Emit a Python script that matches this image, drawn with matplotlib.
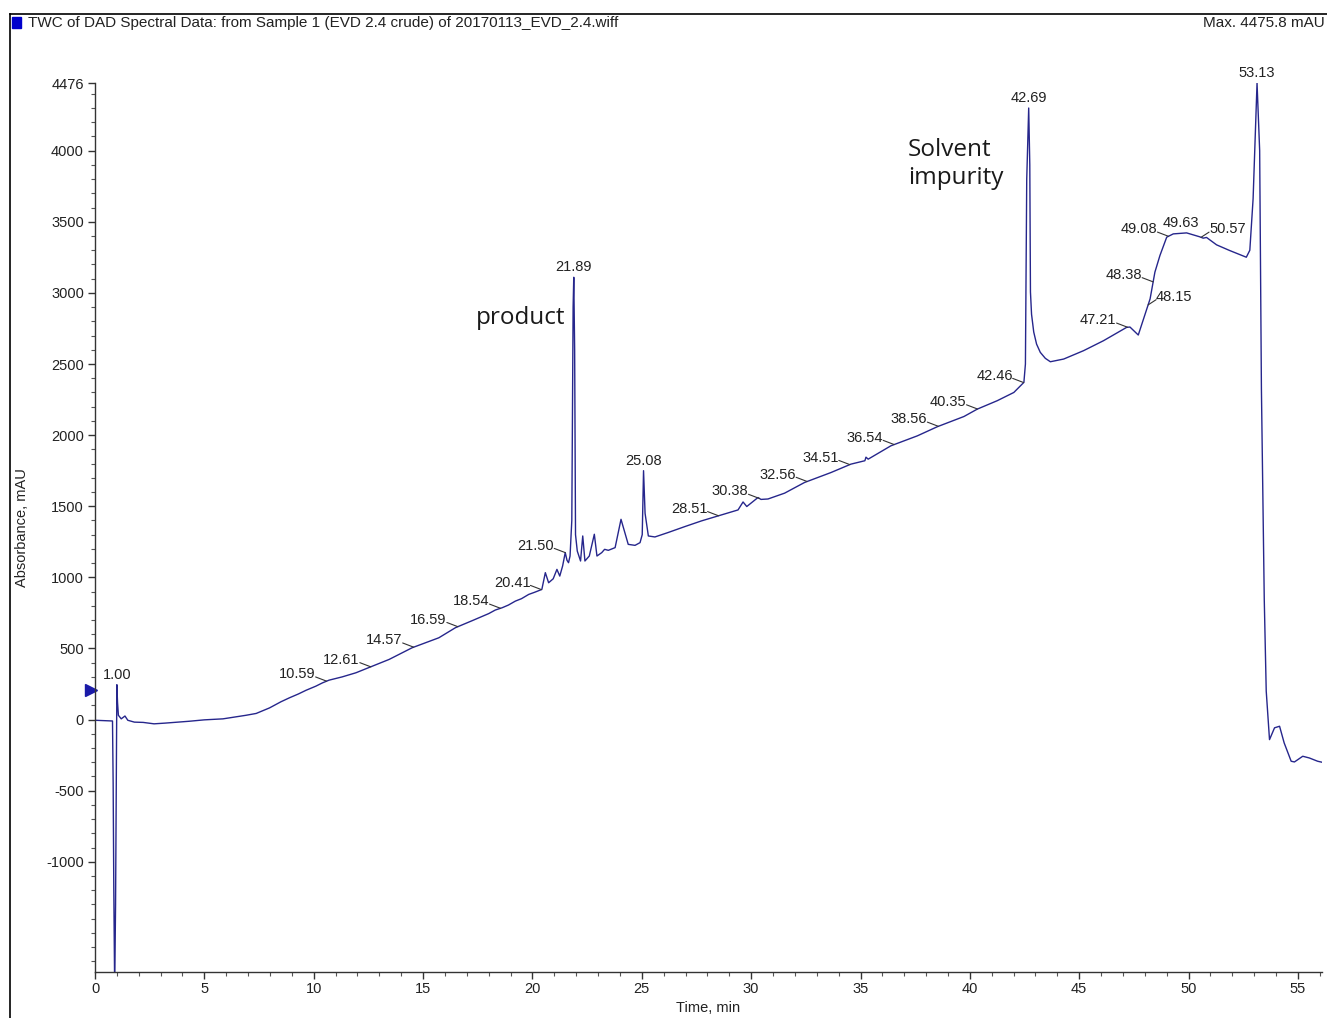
import numpy as np
import matplotlib
matplotlib.use("Agg")
import matplotlib.pyplot as plt
from matplotlib.ticker import MultipleLocator
from matplotlib.lines import Line2D
from matplotlib.patches import Rectangle

plt.rcParams['font.family'] = ['Liberation Sans', 'DejaVu Sans']

# chromatogram trace (time in min, absorbance in mAU)
time_min = [0.0, 0.5, 0.80, 0.83, 0.86, 0.90, 0.94, 0.97, 1.00, 1.03, 1.07, 1.2, 1.37, 1.5,
            1.8, 2.2, 2.7, 3.2, 4.3, 5.0, 5.85, 6.5, 6.9, 7.37, 7.98, 8.5, 8.89, 9.3, 9.65,
            10.1, 10.4, 10.7, 11.3, 11.93, 12.68, 13.45, 14.5, 15.72, 16.48, 17.24, 18.0,
            18.3, 18.61, 18.9, 19.22, 19.5, 19.83, 20.1, 20.43, 20.59, 20.74, 20.95, 21.12,
            21.25, 21.38, 21.5, 21.58, 21.65, 21.72, 21.80, 21.86, 21.89, 21.93, 21.97,
            22.05, 22.2, 22.3, 22.4, 22.6, 22.83, 22.95, 23.17, 23.3, 23.47, 23.78, 24.05,
            24.38, 24.69, 24.92, 25.02, 25.08, 25.15, 25.3, 25.6, 26.2, 26.97, 27.73, 28.49,
            29.4, 29.63, 29.8, 30.31, 30.45, 30.77, 31.53, 32.44, 33.65, 34.56, 35.2, 35.25,
            35.35, 36.39, 37.6, 38.51, 39.73, 40.34, 41.25, 42.01, 42.47, 42.54, 42.6, 42.69,
            42.74, 42.77, 42.82, 42.92, 43.05, 43.22, 43.45, 43.68, 44.29, 45.2, 46.11, 47.17,
            47.32, 47.7, 47.94, 48.24, 48.46, 48.69, 49.0, 49.3, 49.91, 50.5, 50.67, 50.82,
            51.28, 51.88, 52.64, 52.8, 52.95, 53.13, 53.25, 53.33, 53.46, 53.55, 53.7, 53.93,
            54.16, 54.37, 54.69, 54.84, 55.22, 55.52, 55.9, 56.1]
absorbance = [-5, -8, -10, -450, -1200, -1900, -1300, -550, 245, 120, 30, 5, 25, -5,
              -18, -20, -30, -25, -12, -2, 5, 20, 30, 43, 82, 125, 153, 180, 206,
              235, 258, 277, 300, 329, 375, 423, 505, 575, 646, 695, 745,
              770, 786, 805, 833, 850, 880, 895, 915, 1033, 962, 990, 1056,
              1009, 1080, 1174, 1120, 1103, 1150, 1400, 2900, 3110, 2600, 1300,
              1185, 1115, 1291, 1115, 1150, 1303, 1150, 1174, 1197, 1190, 1209, 1408,
              1232, 1225, 1244, 1300, 1750, 1450, 1291, 1284, 1315, 1357, 1397, 1432,
              1474, 1530, 1498, 1561, 1548, 1551, 1592, 1667, 1737, 1796, 1820, 1845,
              1831, 1925, 1995, 2059, 2131, 2183, 2242, 2300, 2371, 2500, 3800, 4300,
              3900, 3007, 2850, 2725, 2640, 2582, 2540, 2516, 2535, 2594, 2664, 2758,
              2760, 2704, 2817, 2958, 3146, 3263, 3392, 3415, 3422, 3395, 3385, 3390,
              3338, 3298, 3251, 3300, 3662, 4476, 4000, 2324, 845, 200, -141, -58,
              -47, -164, -293, -298, -258, -270, -293, -300]

# peak labels
centered_peaks = [1.00, 21.89, 25.08, 42.69, 49.63, 53.13]
left_leader_peaks = [10.59, 12.61, 14.57, 16.59, 18.54, 20.41, 21.50, 28.51, 30.38,
                     32.56, 34.51, 36.54, 38.56, 40.35, 42.46, 47.21, 48.38, 49.08]
right_leader_peaks = [48.15, 50.57]

x_ticks = [0, 5, 10, 15, 20, 25, 30, 35, 40, 45, 50, 55]
y_ticks = [4476, 4000, 3500, 3000, 2500, 2000, 1500, 1000, 500, 0, -500, -1000]

W, H = 1327, 1018
fig = plt.figure(figsize=(W / 100, H / 100), dpi=100)
ax = fig.add_axes([95 / W, 1 - 972 / H, (1322 - 95) / W, (972 - 83) / H])

line_col = '#26268c'
txt_col = '#222222'

ax.plot(time_min, absorbance, color=line_col, lw=1.0)
ax.set_xlim(0, 56.1)
ax.set_ylim(-1775, 4476)

for s in ['top', 'right']:
    ax.spines[s].set_visible(False)
for s in ['left', 'bottom']:
    ax.spines[s].set_color('#333333')
    ax.spines[s].set_linewidth(1.0)

ax.set_xticks(x_ticks)
ax.set_yticks(y_ticks)
ax.set_yticklabels([str(v) for v in y_ticks])
ax.xaxis.set_minor_locator(MultipleLocator(1))
ax.yaxis.set_minor_locator(MultipleLocator(100))
ax.tick_params(which='major', length=5, width=1, color='#333333', labelsize=10.5,
               labelcolor=txt_col)
ax.tick_params(which='minor', length=3, width=0.8, color='#555555')
ax.tick_params(axis='x', pad=2)
ax.tick_params(axis='y', pad=3)

ax.set_xlabel('Time, min', fontsize=10.5, color=txt_col, labelpad=4)
ax.set_ylabel('Absorbance, mAU', fontsize=10.5, color=txt_col, labelpad=12)

# blue marker at left of y axis
ax.plot([-0.17], [211], marker='>', color='#1a1aa8', markersize=8, clip_on=False)

# peak labels
for rt in centered_peaks:
    y = np.interp(rt, time_min, absorbance)
    ax.annotate(f'{rt:.2f}', (rt, y), xytext=(0, 10), textcoords='offset pixels',
                ha='center', va='center', fontsize=10.5, color=txt_col)

for rt in left_leader_peaks:
    y = np.interp(rt, time_min, absorbance)
    ax.annotate(f'{rt:.2f}', (rt, y), xytext=(-11, 7), textcoords='offset pixels',
                ha='right', va='center', fontsize=10.5, color=txt_col,
                arrowprops=dict(arrowstyle='-', color='#333333', lw=0.8,
                                shrinkA=0, shrinkB=0, patchA=None, relpos=(1, 0.3)))

for rt in right_leader_peaks:
    y = np.interp(rt, time_min, absorbance)
    ax.annotate(f'{rt:.2f}', (rt, y), xytext=(8, 8), textcoords='offset pixels',
                ha='left', va='center', fontsize=10.5, color=txt_col,
                arrowprops=dict(arrowstyle='-', color='#333333', lw=0.8,
                                shrinkA=0, shrinkB=0, patchA=None, relpos=(0, 0.3)))

# hand annotations
fig.text(476 / W, 1 - 318 / H, 'product', fontsize=17.5, family=['Open Sans', 'DejaVu Sans'],
         color='#1a1a1a', ha='left', va='center')
fig.text(908 / W, 1 - 164 / H, 'Solvent\nimpurity', fontsize=17.5,
         family=['Open Sans', 'DejaVu Sans'], color='#1a1a1a', ha='left', va='center',
         linespacing=1.2)

# header
fig.add_artist(Line2D([10 / W, 1], [1 - 14 / H, 1 - 14 / H], color='black', lw=1.2))
fig.add_artist(Line2D([10 / W, 10 / W], [0, 1 - 14 / H], color='black', lw=1.2))
fig.add_artist(Rectangle((12 / W, 1 - 28 / H), 9 / W, 11 / H, color='#0000cc'))
fig.text(28 / W, 1 - 23 / H,
         'TWC of DAD Spectral Data: from Sample 1 (EVD 2.4 crude) of 20170113_EVD_2.4.wiff',
         fontsize=11, color=txt_col, ha='left', va='center')
fig.text(1325 / W, 1 - 23 / H, 'Max. 4475.8 mAU', fontsize=11, color=txt_col,
         ha='right', va='center')

fig.savefig('out.png', dpi=100)
